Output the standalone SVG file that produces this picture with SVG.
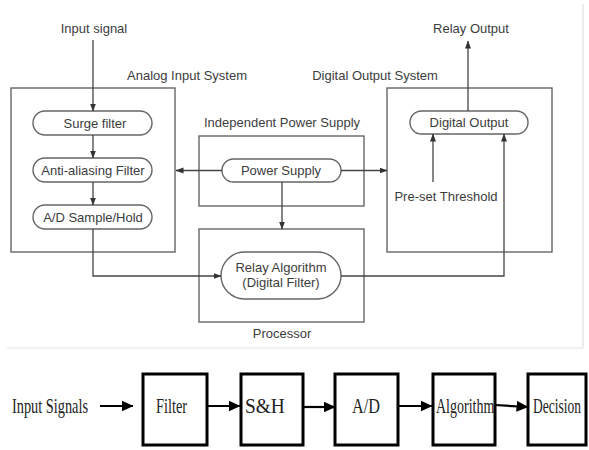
<svg xmlns="http://www.w3.org/2000/svg" width="589" height="450" viewBox="0 0 589 450">
<defs>
<marker id="ah" markerUnits="userSpaceOnUse" markerWidth="8" markerHeight="8" viewBox="0 0 8 8" refX="7.5" refY="4" orient="auto">
<path d="M0,1 L8,4 L0,7 Z" fill="#333"/>
</marker>
<marker id="ahb" markerUnits="userSpaceOnUse" markerWidth="12" markerHeight="12" viewBox="0 0 12 12" refX="11.5" refY="6" orient="auto">
<path d="M0,0.5 L12,6 L0,11.5 Z" fill="#000"/>
</marker>
<style>
.box{fill:none;stroke:#666;stroke-width:1.4}
.pill{fill:#fff;stroke:#666;stroke-width:1.4}
.t{font-family:"Liberation Sans",Arial,sans-serif;font-size:13px;fill:#3c3c3c;text-anchor:middle}
.c{fill:none;stroke:#444;stroke-width:1.3}
.bb{fill:#fff;stroke:#000;stroke-width:3}
.bt{font-family:"Liberation Serif","Times New Roman",serif;font-size:20px;fill:#222}
.bc{fill:none;stroke:#000;stroke-width:2.2}
.frame{fill:none;stroke:#e2e2e2;stroke-width:1.2}
</style>
</defs>
<rect width="589" height="450" fill="#fff"/>
<path class="frame" d="M7,348 H583 V4"/>

<g id="analog-input-system">
<rect class="box" x="11" y="88" width="164" height="164"/>
<text class="t" x="187" y="80">Analog Input System</text>
</g>
<g id="input-signal"><text class="t" x="94" y="33">Input signal</text></g>
<g id="surge-filter">
<rect class="pill" x="33" y="111" width="119" height="24" rx="12"/>
<text class="t" x="95" y="128">Surge filter</text>
</g>
<g id="anti-aliasing-filter">
<rect class="pill" x="33" y="158" width="119" height="24" rx="12"/>
<text class="t" x="93" y="175">Anti-aliasing Filter</text>
</g>
<g id="ad-sample-hold">
<rect class="pill" x="33" y="205" width="119" height="24" rx="12"/>
<text class="t" x="93" y="222">A/D Sample/Hold</text>
</g>

<g id="independent-power-supply">
<rect class="box" x="199" y="136" width="165" height="70"/>
<text class="t" x="282" y="127">Independent Power Supply</text>
</g>
<g id="power-supply">
<rect class="pill" x="222" y="159" width="119" height="23" rx="11.5"/>
<text class="t" x="281" y="175">Power Supply</text>
</g>

<g id="processor">
<rect class="box" x="199" y="229" width="165" height="93"/>
<text class="t" x="282" y="338">Processor</text>
</g>
<g id="relay-algorithm">
<rect class="pill" x="221" y="252" width="120" height="47" rx="23.5"/>
<text class="t" x="281" y="272">Relay Algorithm</text>
<text class="t" x="281" y="287">(Digital Filter)</text>
</g>

<g id="digital-output-system">
<rect class="box" x="387" y="88" width="165" height="164"/>
<text class="t" x="375" y="80">Digital Output System</text>
</g>
<g id="digital-output">
<rect class="pill" x="410" y="111" width="118" height="23" rx="11.5"/>
<text class="t" x="469" y="127">Digital Output</text>
</g>
<g id="pre-set-threshold"><text class="t" x="446" y="201">Pre-set Threshold</text></g>
<g id="relay-output"><text class="t" x="471" y="33">Relay Output</text></g>

<g id="connectors">
<path class="c" d="M93,40 V111" marker-end="url(#ah)"/>
<path class="c" d="M93,135 V158" marker-end="url(#ah)"/>
<path class="c" d="M93,182 V205" marker-end="url(#ah)"/>
<path class="c" d="M93,229 V276 H221" marker-end="url(#ah)"/>
<path class="c" d="M222,170.5 H176" marker-end="url(#ah)"/>
<path class="c" d="M341,170.5 H387" marker-end="url(#ah)"/>
<path class="c" d="M282,182 V229" marker-end="url(#ah)"/>
<path class="c" d="M341,276 H504 V134" marker-end="url(#ah)"/>
<path class="c" d="M433,182 V134" marker-end="url(#ah)"/>
<path class="c" d="M468,111 V41" marker-end="url(#ah)"/>
</g>

<g id="input-signals"><text class="bt" transform="translate(12,413) scale(0.717,1)">Input Signals</text></g>
<g id="filter">
<rect class="bb" x="143" y="374" width="64" height="71"/>
<text class="bt" transform="translate(156,413) scale(0.716,1)">Filter</text>
</g>
<g id="sh">
<rect class="bb" x="241" y="374" width="62" height="71"/>
<text class="bt" transform="translate(245,413) scale(0.97,1)">S&amp;H</text>
</g>
<g id="ad">
<rect class="bb" x="335" y="374" width="63" height="71"/>
<text class="bt" transform="translate(352,413) scale(0.81,1)">A/D</text>
</g>
<g id="algorithm">
<rect class="bb" x="433" y="374" width="62" height="71"/>
<text class="bt" transform="translate(436,413) scale(0.70,1)">Algorithm</text>
</g>
<g id="decision">
<rect class="bb" x="528" y="374" width="58" height="71"/>
<text class="bt" transform="translate(533,413) scale(0.675,1)">Decision</text>
</g>
<g id="connectors-bottom">
<path class="bc" d="M100,406 H133" marker-end="url(#ahb)"/>
<path class="bc" d="M207,406 H240" marker-end="url(#ahb)"/>
<path class="bc" d="M303,407 H335" marker-end="url(#ahb)"/>
<path class="bc" d="M398,406 H432" marker-end="url(#ahb)"/>
<path class="bc" d="M495,405 L528,407" marker-end="url(#ahb)"/>
</g>
</svg>
